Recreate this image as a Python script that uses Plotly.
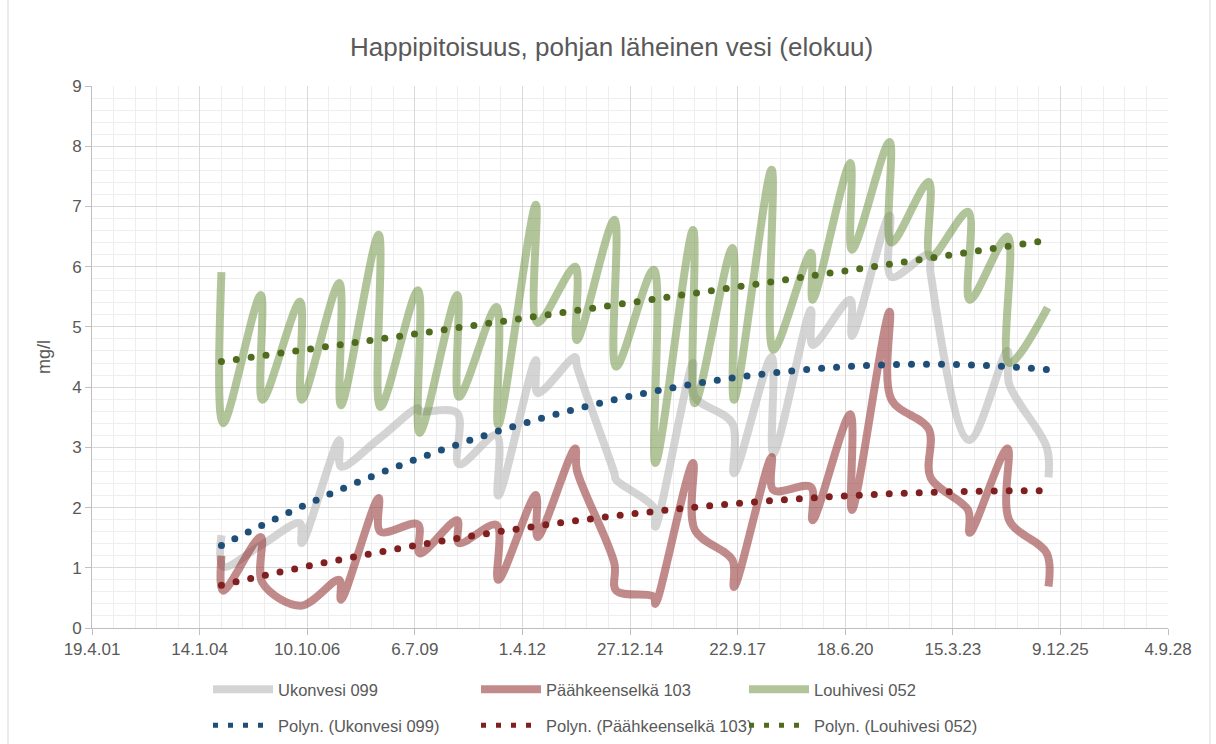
import numpy as np
import pandas as pd
import plotly.graph_objects as go

# ---------------- data ----------------
years = list(range(2004, 2026))

# August measurements per year (first and second sampling), mg/l
ukonvesi_099 = [
    [1.54, 1.02], [1.38], [1.74, 1.41], [3.12, 2.68], [3.15], [3.65, 3.60],
    [3.57, 2.72], [3.20, 2.20], [4.45, 3.90], [4.50, 4.35], [2.57, 2.46],
    [2.00, 1.68], [4.40, 3.84], [3.40, 2.57], [4.50, 2.90], [5.28, 4.70],
    [5.45, 4.85], [6.85, 5.83], [6.20, 5.90], [3.12], [4.60, 4.05], [3.00, 2.50],
]
paahkeenselka_103 = [
    [1.20, 0.62], [1.51, 0.75], [0.37], [0.80, 0.47], [2.16, 1.60], [1.72, 1.24],
    [1.79, 1.41], [1.71, 0.80], [2.21, 1.51], [2.98, 2.62], [1.07, 0.62],
    [0.52, 0.40], [2.74, 1.63], [1.13, 0.68], [2.84, 2.29], [2.34, 1.79],
    [3.55, 1.96], [5.25, 3.80], [3.30, 2.50], [1.96, 1.58], [2.98, 1.79], [1.24, 0.69],
]
louhivesi_052 = [
    [5.91, 3.40], [5.53, 3.79], [5.42, 3.79], [5.73, 3.70], [6.53, 3.67], [5.61, 3.24],
    [5.53, 3.84], [5.33, 3.37], [7.03, 5.07], [6.00, 4.78], [6.78, 4.34],
    [5.95, 2.74], [6.61, 3.73], [6.31, 3.79], [7.61, 4.62], [6.23, 5.45],
    [7.72, 6.28], [8.07, 6.40], [7.41, 6.16], [6.91, 5.45], [6.50, 4.40], [5.32],
]

series_names = ["Ukonvesi 099", "Päähkeenselkä 103", "Louhivesi 052"]
x_tick_labels = ["19.4.01", "14.1.04", "10.10.06", "6.7.09", "1.4.12", "27.12.14",
                 "22.9.17", "18.6.20", "15.3.23", "9.12.25", "4.9.28"]
y_tick_vals = list(range(0, 10))

# ---------------- helpers ----------------
D0 = pd.Timestamp("2001-04-19")
tick_dates = [D0 + pd.Timedelta(days=1000 * i) for i in range(len(x_tick_labels))]
X_END = tick_dates[-1]
SPAN_DAYS = (X_END - D0).days

W, H = 1216, 744
ML, MR, MT, MB = 92, 48, 86, 116
PW, PH = W - ML - MR, H - MT - MB


def expand(values):
    dates, vals = [], []
    for yr, v in zip(years, values):
        if len(v) == 1:
            ds = [f"{yr}-08-12"]
        else:
            ds = [f"{yr}-08-04", f"{yr}-08-20"]
        dates += ds
        vals += v
    return pd.to_datetime(dates), np.array(vals, dtype=float)


def trend_points(dates, vals, step_px=15.0):
    t = np.asarray((dates - D0).days, dtype=float)
    c = np.polyfit(t, vals, 2)
    tt = np.linspace(t.min(), t.max(), 5000)
    yy = np.polyval(c, tt)
    px = tt / SPAN_DAYS * PW
    py = yy / 9.0 * PH
    s = np.concatenate([[0.0], np.cumsum(np.hypot(np.diff(px), np.diff(py)))])
    targets = np.arange(0.0, s[-1] + 1e-6, step_px)
    ts = np.interp(targets, s, tt)
    ys = np.interp(targets, s, yy)
    return D0 + pd.to_timedelta(ts, unit="D"), ys


line_colors = ["rgba(185,185,185,0.62)", "rgba(150,55,55,0.58)", "rgba(110,145,65,0.53)"]
trend_colors = ["#1F4E79", "#7F1F1F", "#4F6B1E"]
all_values = [ukonvesi_099, paahkeenselka_103, louhivesi_052]

FONT = "Liberation Sans"
TXT = "#595959"

fig = go.Figure()

for name, vals, col in zip(series_names, all_values, line_colors):
    d, v = expand(vals)
    fig.add_trace(go.Scatter(
        x=d, y=v, mode="lines", name=name,
        line=dict(color=col, width=8, shape="spline", smoothing=1.0),
        legend="legend", hoverinfo="skip",
    ))

for name, vals, col in zip(series_names, all_values, trend_colors):
    d, v = expand(vals)
    td, tv = trend_points(d, v)
    fig.add_trace(go.Scatter(
        x=td, y=tv, mode="markers", showlegend=False,
        marker=dict(color=col, size=7, line=dict(width=0)),
        hoverinfo="skip",
    ))

for name, col in zip(series_names, trend_colors):
    fig.add_trace(go.Scatter(
        x=[None], y=[None], mode="lines", name=f"Polyn. ({name})",
        line=dict(color=col, width=5, dash="5px,10px"),
        legend="legend2",
    ))

fig.update_layout(
    width=W, height=H,
    margin=dict(l=ML, r=MR, t=MT, b=MB, autoexpand=False),
    paper_bgcolor="white", plot_bgcolor="white",
    font=dict(family=FONT, color=TXT, size=17),
    title=dict(
        text="Happipitoisuus, pohjan läheinen vesi (elokuu)",
        x=0.503, xref="container", xanchor="center",
        y=1 - 47 / H, yref="container", yanchor="middle",
        font=dict(family=FONT, size=26, color=TXT),
    ),
    xaxis=dict(
        type="date",
        range=[D0, X_END],
        tickmode="array", tickvals=tick_dates, ticktext=x_tick_labels,
        showgrid=True, gridcolor="#d9d9d9", gridwidth=1,
        showline=True, linecolor="#bfbfbf", linewidth=1,
        ticks="outside", ticklen=6, tickcolor="#bfbfbf",
        tickfont=dict(family=FONT, size=17, color=TXT),
        minor=dict(tickmode="linear", tick0=D0, dtick=200 * 86400000,
                   showgrid=True, gridcolor="#eeeeee", gridwidth=1, ticks=""),
        zeroline=False, fixedrange=True,
    ),
    yaxis=dict(
        range=[0, 9],
        tickmode="array", tickvals=y_tick_vals,
        showgrid=True, gridcolor="#d9d9d9", gridwidth=1,
        showline=True, linecolor="#bfbfbf", linewidth=1,
        ticks="outside", ticklen=6, tickcolor="#bfbfbf",
        tickfont=dict(family=FONT, size=17, color=TXT),
        minor=dict(tickmode="linear", tick0=0, dtick=0.2,
                   showgrid=True, gridcolor="#eeeeee", gridwidth=1, ticks=""),
        title=dict(text="mg/l", font=dict(family=FONT, size=18, color=TXT), standoff=16),
        zeroline=False, fixedrange=True,
    ),
    legend=dict(
        orientation="h", x=(208 - ML) / PW, xanchor="left",
        y=(MT + PH - 672) / PH, yanchor="top",
        entrywidth=193, entrywidthmode="pixels", itemwidth=60,
        font=dict(family=FONT, size=16.5, color=TXT),
        bgcolor="rgba(0,0,0,0)",
    ),
    legend2=dict(
        orientation="h", x=(208 - ML) / PW, xanchor="left",
        y=(MT + PH - 708) / PH, yanchor="top",
        entrywidth=193, entrywidthmode="pixels", itemwidth=60,
        font=dict(family=FONT, size=16.5, color=TXT),
        bgcolor="rgba(0,0,0,0)",
    ),
    shapes=[dict(
        type="rect", xref="paper", yref="paper",
        x0=(8 - ML) / PW, x1=(1210 - ML) / PW,
        y0=(MT + PH - 760) / PH, y1=(MT + PH + 10) / PH,
        line=dict(color="#d9d9d9", width=1), fillcolor="rgba(0,0,0,0)", layer="below",
    )],
)

fig.write_html(
    "out.html",
    config={"displayModeBar": False, "staticPlot": True},
    post_script="document.body.style.margin='0';document.body.style.overflow='hidden';",
)
